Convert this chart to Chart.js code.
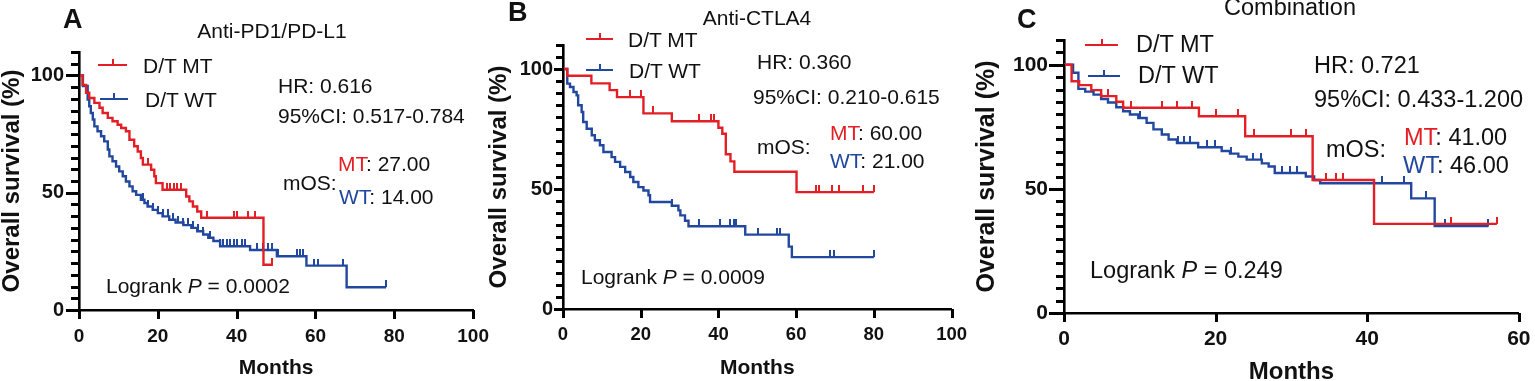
<!DOCTYPE html>
<html><head><meta charset="utf-8">
<script src="https://cdn.jsdelivr.net/npm/chart.js@4.4.1/dist/chart.umd.min.js"></script>
<style>
html,body{margin:0;padding:0;background:#fff;width:1535px;height:381px;overflow:hidden;position:relative;font-family:'Liberation Sans',Arial,Helvetica,sans-serif;color:#111}
canvas{position:absolute;top:0}
.t{position:absolute;white-space:nowrap;line-height:1;transform:translateY(-50%)}
.c{transform:translate(-50%,-50%)}
.b{font-weight:bold}
.lg{position:absolute;height:2px}
.lg i{position:absolute;left:50%;width:2px;height:7px;bottom:0;margin-left:-1px}
.r{color:#e31e24}.u{color:#22479e}
</style></head><body>
<canvas id="cA" width="498" height="381" style="left:0px"></canvas>
<canvas id="cB" width="489" height="381" style="left:487px"></canvas>
<canvas id="cC" width="563" height="392" style="left:975px"></canvas>
<div id="ann"></div>
<script>
// ---------------- DATA ----------------
const xTicksAB = [0, 20, 40, 60, 80, 100];
const xTicksC = [0, 20, 40, 60];
const yTicks = [0, 5, 10, 15, 20, 25, 30, 35, 40, 45, 50, 55, 60, 65, 70, 75, 80, 85, 90, 95, 100, 105, 110];
const yLabeled = [0, 50, 100];

// Panel A: Anti-PD1/PD-L1
const monthsA_MT = [0, 0.9, 1.8, 2.6, 3.9, 5.2, 6.0, 7.3, 8.5, 9.8, 10.7, 11.9, 12.8, 14.0, 14.9, 15.7, 16.2, 18.3, 19.1, 19.5, 21.2, 27.2, 28.0, 28.9, 30.0, 31.0, 46.8, 49.2];
const survA_MT   = [100, 96, 92.6, 90.4, 88.3, 86.2, 84, 81.9, 80.5, 79, 77.6, 76.2, 72.6, 69.8, 67.6, 64.8, 62, 59.8, 57, 54.1, 51.3, 48.4, 46.3, 44.1, 42, 39.3, 19.3, 19.3];
const censA_MT   = [17.5, 22.4, 23.2, 24.1, 24.9, 25.8, 32.4, 39.2, 40.1, 43.0, 44.7, 49.0];
const monthsA_WT = [0, 1.0, 2.2, 2.6, 3.0, 3.5, 3.9, 4.7, 5.6, 6.4, 7.3, 7.7, 8.5, 9.4, 10.2, 11.1, 11.9, 12.8, 13.6, 14.5, 15.7, 16.6, 17.4, 18.7, 20.0, 21.2, 22.9, 24.5, 26.5, 28.5, 30.0, 31.5, 32.8, 34.1, 35.8, 43.4, 50.2, 57.7, 67.9, 77.9];
const survA_WT   = [100, 95.5, 89.7, 86.9, 84, 81.2, 78.3, 76.2, 74.1, 71.9, 68.4, 65.5, 63.4, 61.2, 59.1, 57, 54.8, 52.7, 50.6, 49.1, 47, 45.6, 44.1, 42.7, 41.3, 39.9, 38.5, 37.3, 36.2, 35.0, 33.6, 32.2, 30.8, 29.4, 27.2, 25.6, 22.9, 18.9, 9.7, 9.7];
const censA_WT   = [16.3, 17.6, 18.9, 20.1, 21.4, 22.7, 23.9, 25.2, 26.5, 27.7, 29.0, 30.3, 31.5, 33.2, 35.8, 36.6, 37.5, 38.3, 39.2, 40.0, 41.3, 42.1, 45.1, 46.8, 48.0, 48.9, 50.6, 55.3, 56.1, 56.9, 59.5, 60.7, 67.1, 77.9];

// Panel B: Anti-CTLA4
const monthsB_MT = [0, 1.1, 7.3, 12.0, 13.9, 20.7, 28.0, 40.0, 41.0, 41.9, 43.1, 44.1, 60.1, 80.0];
const survB_MT   = [100, 97.2, 94, 91.2, 88.3, 81.5, 78.2, 75.5, 73, 64.5, 61.5, 57.2, 48.7, 48.7];
const censB_MT   = [17.2, 20.0, 23.1, 35.0, 38.0, 38.8, 65.0, 65.8, 69.2, 71.0, 77.1, 80.0];
const monthsB_WT = [0, 1.1, 1.8, 2.7, 3.5, 3.9, 4.8, 5.2, 6.1, 7.4, 8.2, 9.5, 10.4, 12.5, 13.4, 14.7, 16.0, 17.3, 18.1, 19.4, 20.7, 22.0, 22.4, 28.0, 29.7, 30.2, 31.4, 32.3, 46.9, 58.1, 58.9, 80.0];
const survB_WT   = [100, 93.9, 92.5, 90.4, 89, 84.9, 82.1, 77.9, 75.1, 72.4, 70.3, 68.2, 65.4, 63.3, 61.3, 59.2, 57.1, 55, 52.9, 50.8, 49.4, 47.4, 44.6, 43.0, 41.1, 39, 36.8, 34.5, 31.0, 26.0, 21.6, 21.6];
const censB_WT   = [28.0, 35.1, 40.3, 43.0, 43.9, 44.6, 50.1, 55.1, 55.9, 68.8, 69.7, 80.0];

// Panel C: Combination
const monthsC_MT = [0, 1.0, 2.0, 3.6, 4.9, 6.9, 7.8, 17.8, 23.9, 32.8, 40.9, 57.1];
const survC_MT   = [100, 93.4, 91.8, 89.8, 87.4, 85.1, 82.7, 79.3, 71.2, 53.6, 35.9, 35.9];
const censC_MT   = [5.8, 8.9, 12.9, 14.9, 16.9, 20.0, 23.0, 25.0, 30.0, 31.9, 34.6, 35.9, 36.8, 51.0, 57.1];
const monthsC_WT = [0, 1.2, 1.9, 2.8, 3.9, 4.9, 5.8, 6.9, 7.8, 8.7, 9.8, 10.9, 11.8, 12.9, 13.8, 14.9, 17.7, 20.8, 21.9, 23.0, 24.1, 26.1, 27.0, 27.8, 31.9, 33.0, 33.8, 45.8, 48.9, 56.0];
const survC_WT   = [100, 96.8, 90.3, 89.2, 88.0, 86.2, 84.8, 82.9, 81.3, 80.0, 78.6, 76.6, 74.0, 71.9, 69.9, 68.5, 66.8, 65.3, 64.2, 63.0, 61.8, 60.3, 59.0, 56.4, 55.0, 53.6, 52.3, 46.2, 35.0, 35.0];
const censC_WT   = [10.0, 15.1, 15.8, 16.6, 18.9, 19.9, 22.0, 24.9, 26.0, 28.8, 29.8, 30.7, 41.9, 44.8, 47.8, 50.2, 56.0];

// ---------------- DRAWING ----------------
const RED = '#e31e24', BLUE = '#22479e', INK = '#111';
const FONT = "'Liberation Sans', Arial, Helvetica, sans-serif";

function toPts(ts, ss) { return ts.map((t, i) => ({x: t, y: ss[i]})); }
function stepAt(ts, ss, t) { let v = ss[0]; for (let i = 0; i < ts.length; i++) { if (ts[i] <= t) v = ss[i]; else break; } return v; }
function censPts(cs, ts, ss) { return cs.map(t => ({x: t, y: stepAt(ts, ss, t)})); }
function tickImg(color) {
  const c = document.createElement('canvas'); c.width = 2; c.height = 14;
  const g = c.getContext('2d'); g.fillStyle = color; g.fillRect(0, 0, 2, 7); return c;
}

// axis tick marks at the scales' own pixel positions
function tickMarksPlugin(maj, min) {
  return {
    id: 'tickMarks',
    afterDraw(chart) {
      const ctx = chart.ctx, ca = chart.chartArea, xs = chart.scales.x, ys = chart.scales.y;
      ctx.save();
      ctx.fillStyle = '#000';
      yTicks.forEach(v => {
        const py = Math.round(ys.getPixelForValue(v));
        const len = yLabeled.includes(v) ? maj : min;
        ctx.fillRect(Math.round(ca.left) - len, py - 1, len + 1, 3);
      });
      xs.ticks.forEach(t => {
        const px = Math.round(xs.getPixelForValue(t.value));
        ctx.fillRect(px - 1, Math.round(ca.bottom), 3, 9);
      });
      ctx.restore();
    }
  };
}

function makeChart(id, P) {
  const line = (data, color) => ({data, borderColor: color, borderWidth: 2.4, stepped: true, pointRadius: 0, fill: false, showLine: true});
  const cens = (data, color) => ({data, showLine: false, pointStyle: tickImg(color), pointRadius: 3, borderWidth: 0});
  new Chart(document.getElementById(id), {
    type: 'line',
    plugins: [tickMarksPlugin(P.maj, P.min)],
    data: {datasets: [
      cens(censPts(P.cMT, P.tMT, P.sMT), RED),
      line(toPts(P.tMT, P.sMT), RED),
      cens(censPts(P.cWT, P.tWT, P.sWT), BLUE),
      line(toPts(P.tWT, P.sWT), BLUE)
    ]},
    options: {
      responsive: false, animation: false, devicePixelRatio: 1, events: [],
      layout: {padding: {top: P.top, right: 0, left: 0, bottom: 0}},
      plugins: {legend: {display: false}, tooltip: {enabled: false}},
      scales: {
        x: {
          type: 'linear', min: 0, max: P.xTicks[P.xTicks.length - 1],
          afterBuildTicks: s => { s.ticks = P.xTicks.map(v => ({value: v})); },
          afterFit: s => { s.height = P.xh; },
          ticks: {color: INK, padding: P.xpad, maxRotation: 0, autoSkip: false, font: {family: FONT, size: P.xfs, weight: 'bold', lineHeight: 1}},
          grid: {display: false, drawOnChartArea: false, drawTicks: true, tickLength: 8},
          border: {color: '#000', width: 2.6},
          title: {display: true, text: 'Months', color: INK, padding: {top: 0, bottom: P.xtpad}, font: {family: FONT, size: P.xtfs, weight: 'bold', lineHeight: 1}}
        },
        y: {
          type: 'linear', min: 0, max: 110,
          afterBuildTicks: s => { s.ticks = yTicks.map(v => ({value: v})); },
          afterFit: s => { s.width = P.yw; },
          ticks: {color: INK, padding: P.ypad, autoSkip: false, font: {family: FONT, size: P.yfs, weight: 'bold', lineHeight: 1},
                  callback: v => yLabeled.includes(v) ? String(v) : ''},
          grid: {display: false, drawOnChartArea: false, drawTicks: true, tickLength: P.maj},
          border: {color: '#000', width: 2.6},
          title: {display: true, text: 'Overall survival (%)', color: INK, padding: {top: 0, bottom: 0}, font: {family: FONT, size: P.ytfs, weight: 'bold', lineHeight: 1}}
        }
      }
    }
  });
}

makeChart('cA', {tMT: monthsA_MT, sMT: survA_MT, cMT: censA_MT, tWT: monthsA_WT, sWT: survA_WT, cWT: censA_WT,
  xTicks: xTicksAB, top: 52, yw: 79, xh: 71, xpad: 9, xfs: 19, xtfs: 21, xtpad: 2.5, ypad: 2, yfs: 20, ytfs: 24, maj: 13, min: 8});
makeChart('cB', {tMT: monthsB_MT, sMT: survB_MT, cMT: censB_MT, tWT: monthsB_WT, sWT: survB_WT, cWT: censB_WT,
  xTicks: xTicksAB, top: 45, yw: 76, xh: 72, xpad: 9, xfs: 18.5, xtfs: 21, xtpad: 2.5, ypad: 1, yfs: 20, ytfs: 24, maj: 9, min: 7});
makeChart('cC', {tMT: monthsC_MT, sMT: survC_MT, cMT: censC_MT, tWT: monthsC_WT, sWT: survC_WT, cWT: censC_WT,
  xTicks: xTicksC, top: 40, yw: 89, xh: 79, xpad: 7.5, xfs: 21, xtfs: 24, xtpad: 8, ypad: 1, yfs: 21, ytfs: 25, maj: 15, min: 8});

// ---------------- TEXT ANNOTATIONS ----------------
const ann = document.getElementById('ann');
function txt(html, x, cy, size, cls) {
  const d = document.createElement('div');
  d.className = 't ' + (cls || '');
  d.style.left = x + 'px'; d.style.top = cy + 'px'; d.style.fontSize = size + 'px';
  d.innerHTML = html; ann.appendChild(d);
}
function legendLine(x1, x2, cy, color) {
  const d = document.createElement('div');
  d.className = 'lg';
  d.style.left = x1 + 'px'; d.style.width = (x2 - x1) + 'px'; d.style.top = (cy - 1) + 'px'; d.style.background = color;
  const i = document.createElement('i'); i.style.background = color; d.appendChild(i);
  ann.appendChild(d);
}
const panelsText = [
  {letter: 'A', lx: 63, ly: 19, title: 'Anti-PD1/PD-L1', tx: 272, ty: 30, fs: 21,
   lg: [[98, 127, 65, 143], [100, 128, 99, 145]],
   hr: 'HR: 0.616', hrx: 278, hry: 84.5, ci: '95%CI: 0.517-0.784', cix: 278, ciy: 114.5,
   mos: [283, 182], mt: ['27.00', 338, 162.5], wt: ['14.00', 339, 195.5], lr: ['0.0002', 106, 284.5]},
  {letter: 'B', lx: 508, ly: 12, title: 'Anti-CTLA4', tx: 757, ty: 16.5, fs: 21,
   lg: [[586, 613, 39, 628], [586, 613, 70, 629]],
   hr: 'HR: 0.360', hrx: 757, hry: 61, ci: '95%CI: 0.210-0.615', cix: 753, ciy: 96,
   mos: [757, 146], mt: ['60.00', 830, 131.5], wt: ['21.00', 830, 159.5], lr: ['0.0009', 581, 275.5]},
  {letter: 'C', lx: 1017, ly: 19, title: 'Combination', tx: 1290, ty: 8, fs: 23.5,
   lg: [[1085, 1118, 45, 1136], [1088, 1120, 76, 1138]],
   hr: 'HR: 0.721', hrx: 1314, hry: 66, ci: '95%CI: 0.433-1.200', cix: 1314, ciy: 99.5,
   mos: [1326, 150], mt: ['41.00', 1404, 137.5], wt: ['46.00', 1403, 165.5], lr: ['0.249', 1090, 270.5]}
];
panelsText.forEach(p => {
  txt(p.letter, p.lx, p.ly, 27, 'b');
  txt(p.title, p.tx, p.ty, p.fs, 'c');
  legendLine(p.lg[0][0], p.lg[0][1], p.lg[0][2], RED);
  txt('D/T MT', p.lg[0][3], p.lg[0][2], p.fs);
  legendLine(p.lg[1][0], p.lg[1][1], p.lg[1][2], BLUE);
  txt('D/T WT', p.lg[1][3], p.lg[1][2], p.fs);
  txt(p.hr, p.hrx, p.hry, p.fs);
  txt(p.ci, p.cix, p.ciy, p.fs);
  txt('mOS:', p.mos[0], p.mos[1], p.fs);
  txt('<span class="r">MT</span>: ' + p.mt[0], p.mt[1], p.mt[2], p.fs);
  txt('<span class="u">WT</span>: ' + p.wt[0], p.wt[1], p.wt[2], p.fs);
  txt('Logrank <i>P</i> = ' + p.lr[0], p.lr[1], p.lr[2], p.fs);
});
</script>
</body></html>
